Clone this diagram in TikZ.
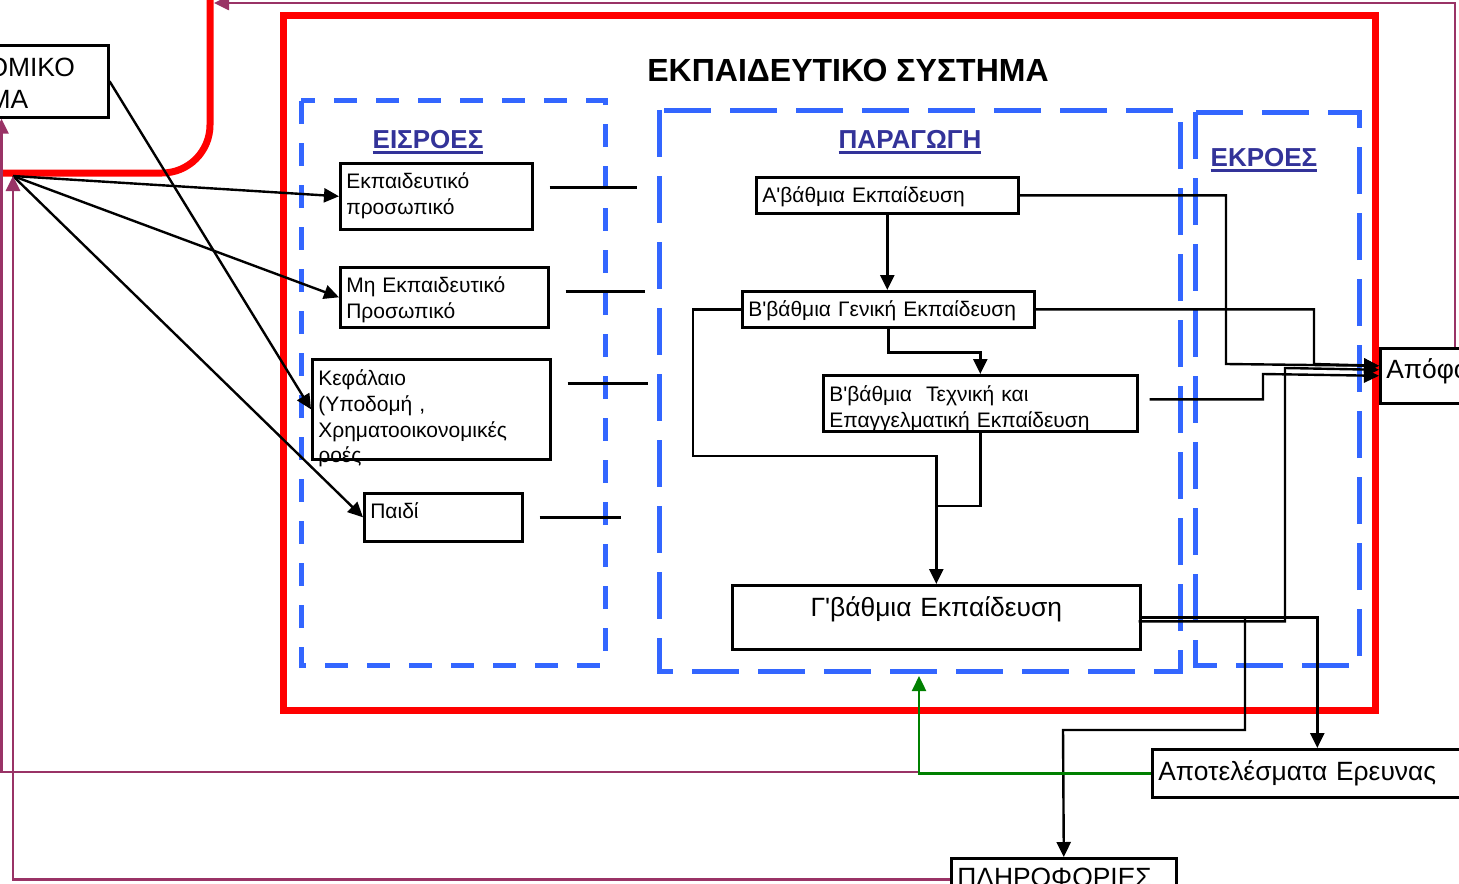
\documentclass[tikz,border=0pt]{standalone}
\usepackage{fontspec}
\setmainfont{Liberation Sans}[Ligatures=TeXOff]
\usetikzlibrary{arrows.meta,calc}

\definecolor{redframe}{HTML}{FF0000}
\definecolor{blueline}{HTML}{3366FF}
\definecolor{headblue}{HTML}{333399}
\definecolor{plum}{HTML}{993366}
\definecolor{greenline}{HTML}{008000}

\tikzstyle{bx} = [rectangle, draw, fill=white, line width=1.3pt, anchor=north west,
    align=left, inner xsep=3pt, inner ysep=0pt, font=\fontsize{10.5}{12.8}\selectfont]
\tikzstyle{bigbx} = [bx, font=\fontsize{13.2}{16}\selectfont]
\tikzstyle{zone} = [draw=blueline, line width=2.5pt]
\tikzstyle{head} = [text=headblue, font=\fontsize{13}{16}\selectfont\bfseries]

\newcommand{\uhead}[1]{\setbox0\hbox{#1}\rlap{\copy0}\rule[-2.5pt]{\wd0}{1.5pt}}

\begin{document}
\begin{tikzpicture}[x=0.5pt,y=-0.5pt,>={Triangle[length=7.5pt,width=7pt]},line width=1.2pt]
  \useasboundingbox (0,0) rectangle (1459,883);
  \clip (0,0) rectangle (1459,883);

  % frames
  \draw[redframe, line width=3.5pt, rounded corners=24pt] (210,-40) -- (210,173) -- (-40,173);
  \draw[redframe, line width=3.5pt] (283,16) rectangle (1375,710);
  \draw[zone, dash pattern=on 11.5pt off 9.5pt] (301,101) rectangle (605,665);
  \draw[zone, dash pattern=on 23.5pt off 9.5pt] (659,110) rectangle (1180,671);
  \draw[zone, dash pattern=on 23.5pt off 9.5pt] (1195,112) rectangle (1359,665);

  % headings
  \node[font=\fontsize{16}{18}\selectfont\bfseries] (title) at (848,70) {ΕΚΠΑΙΔΕΥΤΙΚΟ ΣΥΣΤΗΜΑ};
  \node[head] (inhd) at (428,142) {\uhead{ΕΙΣΡΟΕΣ}};
  \node[head] (prodhd) at (910,142) {\uhead{ΠΑΡΑΓΩΓΗ}};
  \node[head] (outhd) at (1264,160) {\uhead{ΕΚΡΟΕΣ}};

  % boxes
  \node[bx, text width=90pt, text height=12.75pt, text depth=20.25pt] (staff) at (339,162) {Εκπαιδευτικό\\προσωπικό};
  \node[bx, text width=98pt, text height=12.75pt, text depth=17.25pt] (nonstaff) at (339,266) {Μη Εκπαιδευτικό\\Προσωπικό};
  \node[bx, text width=113pt, text height=13.25pt, text depth=36.75pt] (capital) at (311,358) {Κεφάλαιο\\(Υποδομή ,\\Χρηματοοικονομικές\\ροές};
  \node[bx, text width=73pt, text height=12.75pt, text depth=11.25pt] (child) at (363,492) {Παιδί};
  \node[bx, text width=125pt, text height=12.75pt, text depth=5.25pt] (prim) at (755,176) {Α'βάθμια Εκπαίδευση};
  \node[bx, text width=140pt, text height=12.75pt, text depth=5.25pt] (secgen) at (741,290) {Β'βάθμια Γενική Εκπαίδευση};
  \node[bx, text width=151pt, text height=13.25pt, text depth=14.75pt] (sectech) at (822,374) {Β'βάθμια\ \ Τεχνική και\\Επαγγελματική Εκπαίδευση};
  \node[bigbx, align=center, text width=198pt, text height=15.65pt, text depth=16.35pt] (tert) at (731,584) {Γ'βάθμια Εκπαίδευση};
  \node[bigbx, text width=94pt, text height=15pt, text depth=12.5pt] (grad) at (1379,347) {Απόφοιτοι};
  \node[bigbx, text width=159pt, text height=15.5pt, text depth=8.5pt] (research) at (1151,748) {Αποτελέσματα Ερευνας};
  \node[bigbx, text width=106.5pt, text height=14pt, text depth=7pt] (info) at (950,857) {ΠΛΗΡΟΦΟΡΙΕΣ};
  \node[bigbx, text width=99.5pt, text height=15.5pt, text depth=20.5pt] (econ) at (-104,44) {ΟΙΚΟΝΟΜΙΚΟ\\ΣΥΣΤΗΜΑ};

  \coordinate (hub) at (13,176);

  % inputs
  \draw[->] (hub) -- (staff.west);
  \draw[->] (hub) -- (nonstaff.west);
  \draw[->] (hub) -- (child.west);
  \draw[->] (econ.east) -- (capital.west);
  \draw ($(staff.east)+(16,-9)$) -- ++(87,0);
  \draw ($(nonstaff.east)+(16,-6)$) -- ++(79,0);
  \draw ($(capital.east)+(16,-26)$) -- ++(80,0);
  \draw ($(child.east)+(16,0)$) -- ++(81,0);

  % production
  \draw[->] (prim.south) -- (prim.south |- secgen.north);
  \draw[->] (secgen.south) -- ++(0,24) -| (sectech.north);
  \draw[->] (secgen.west) -- ++(-48,0) |- (tert.north |- 0,456) -- (tert.north);
  \draw (sectech.south) |- (tert.north |- 0,506);

  % outputs
  \draw[->] (prim.east) -| (1226,364) -- ($(grad.west)+(0,-10)$);
  \draw[->] (secgen.east) -| (1314,364) -- ($(grad.west)+(0,-10)$);
  \draw[->] ($(sectech.east)+(11,-4)$) -| (1263,374) -- (grad.west);
  \draw[->] ($(tert.east)+(-3,4)$) -| (1285,368) -- ($(grad.west)+(0,-6)$);
  \draw[->] (tert.east) -| (research.north);
  \draw[->] (tert.east -| 1245,0) |- (1063,730) -- (info.north);

  % feedback
  \draw[plum, line width=1.3pt, ->] (919,772) -- (1.5,772) -- (econ.south -| 1.5,0);
  \draw[plum, line width=1.3pt, ->] (info.west) -| (hub);
  \draw[plum, line width=1.3pt, ->] (grad.north -| 1455,0) -- (1455,3) -- (214,3);
  \draw[greenline, ->] (research.west) -| (919,676);
\end{tikzpicture}
\end{document}
